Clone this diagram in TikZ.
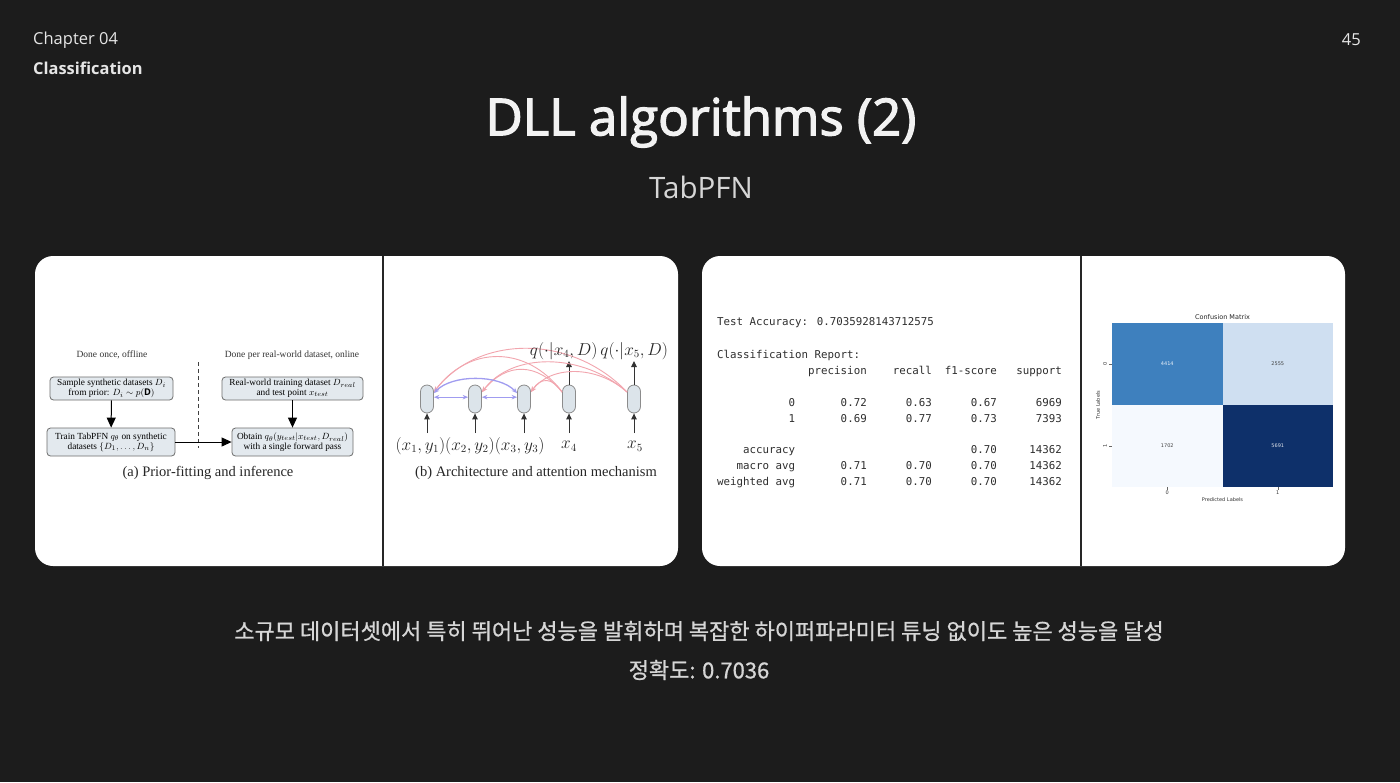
\documentclass[tikz,border=0pt]{standalone}
\usepackage{fontspec}
\usetikzlibrary{arrows.meta}
\setmainfont{Open Sans}
\newfontfamily\titlefont[FakeBold=2.5]{Open Sans}
\newfontfamily\krfont[FakeBold=0.8]{Noto Sans CJK KR}
\newfontfamily\paperfont{Liberation Serif}
\newfontfamily\codefont{DejaVu Sans Mono}
\newfontfamily\plotfont{DejaVu Sans}

\definecolor{bgcol}{HTML}{1C1C1C}
\definecolor{headtext}{HTML}{E6E6E6}
\definecolor{subtext}{HTML}{D6D6D6}
\definecolor{divcol}{HTML}{262626}
\definecolor{boxfill}{HTML}{E3E9EE}
\definecolor{boxline}{HTML}{6E6E6E}
\definecolor{pillfill}{HTML}{DCE4EA}
\definecolor{pillline}{HTML}{8C8C8C}
\definecolor{attnred}{HTML}{F2A5AE}
\definecolor{attnblue}{HTML}{A09CF0}
\definecolor{codetext}{HTML}{2E2E2E}
\definecolor{cmA}{HTML}{3E80BE}
\definecolor{cmB}{HTML}{CFDFF1}
\definecolor{cmC}{HTML}{F5F9FE}
\definecolor{cmD}{HTML}{0E306A}

\tikzset{
  panel/.style={fill=white, rounded corners=18pt, draw=none, inner sep=0pt},
  divider/.style={draw=divcol, line width=2.5pt},
  pbox/.style={draw=boxline, fill=boxfill, rounded corners=3.5pt, line width=0.8pt,
    align=center, inner sep=0.5pt, text=black,
    font=\paperfont\fontsize{9.3}{9.8}\selectfont},
  phead/.style={font=\paperfont\fontsize{9.5}{11}\selectfont, text=black!80, inner sep=0pt},
  pcap/.style={font=\paperfont\fontsize{14.5}{16}\selectfont, text=black!85, inner sep=0pt},
  flow/.style={line width=1pt, -{Triangle[length=10pt,width=9pt]}},
  pill/.style={draw=pillline, fill=pillfill, line width=0.8pt, rounded corners=6.5pt,
    minimum width=13pt, minimum height=28pt, inner sep=0pt},
  uparrow/.style={draw=black!80, line width=1pt, -{Triangle[length=6pt,width=5.5pt]}},
  mathlbl/.style={font=\fontsize{16}{18}\selectfont, text=black!85, inner sep=0pt},
  redattn/.style={draw=attnred, line width=0.9pt, -{Stealth[length=5.5pt,width=4.5pt]}},
  blueattn/.style={draw=attnblue, line width=1.3pt, {Stealth[length=5.5pt,width=4.5pt]}-{Stealth[length=5.5pt,width=4.5pt]}},
  codeline/.style={anchor=west, inner sep=0pt, text=codetext, font=\codefont\fontsize{10.8}{12}\selectfont},
  cell/.style={minimum width=110.5pt, minimum height=82pt, inner sep=0pt, draw=none,
    font=\plotfont\fontsize{5}{6}\selectfont},
  plotlbl/.style={inner sep=0pt, text=black!80, font=\plotfont\fontsize{5}{6}\selectfont},
}

\begin{document}
\begin{tikzpicture}[x=1pt,y=-1pt]
  % slide background
  \fill[bgcol] (0,0) rectangle (1400,782);
  \useasboundingbox (0,0) rectangle (1400,782);

  % header
  \node[anchor=west, inner sep=0pt, text=headtext, font=\fontsize{16.5}{20}\selectfont] (chap) at (33,40) {Chapter 04};
  \node[anchor=west, inner sep=0pt, text=headtext, font=\bfseries\fontsize{16.4}{20}\selectfont] (sect) at (33,68) {Classification};
  \node[anchor=east, inner sep=0pt, text=headtext, font=\fontsize{16.5}{20}\selectfont] (page) at (1361,40) {45};
  \node[inner sep=0pt, text=white!95!black, font=\titlefont\fontsize{51}{60}\selectfont] (title) at (701,122) {DLL algorithms (2)};
  \node[inner sep=0pt, text=subtext, font=\fontsize{29.5}{34}\selectfont] (subtitle) at (701,187) {TabPFN};

  % image panels
  \node[panel, minimum width=643pt, minimum height=310pt] (left) at (356.5,411) {};
  \node[panel, minimum width=643pt, minimum height=310pt] (right) at (1023.5,411) {};
  \draw[divider] (383,256) -- (383,566);
  \draw[divider] (1081,256) -- (1081,566);

  % (a) prior-fitting and inference
  \node[phead] (offhead) at (112,355) {Done once, offline};
  \node[phead] (onhead) at (292,355) {Done per real-world dataset, online};
  \draw[black!75, line width=0.9pt, dash pattern=on 4pt off 3pt] (198,362) -- (198,448);
  \node[pbox, minimum width=123pt, minimum height=23pt] (sample) at (111.5,388.5)
    {Sample synthetic datasets $D_i$\\from prior: $D_i\sim p(\mathbf{D})$};
  \node[pbox, minimum width=128pt, minimum height=28pt] (train) at (111,442)
    {Train TabPFN $q_\theta$ on synthetic\\datasets $\{D_1,\ldots,D_n\}$};
  \node[pbox, minimum width=141pt, minimum height=23pt] (real) at (292.5,388.5)
    {Real-world training dataset $D_{real}$\\and test point $x_{test}$};
  \node[pbox, minimum width=121pt, minimum height=28pt] (obtain) at (292.5,442)
    {Obtain $q_\theta(y_{test}|x_{test},D_{real})$\\with a single forward pass};
  \draw[flow] (sample) -- (train);
  \draw[flow] (real) -- (obtain);
  \draw[flow] (train) -- (obtain);
  \node[pcap] (capa) at (208,473) {(a) Prior-fitting and inference};

  % (b) architecture and attention
  \node[pill] (p1) at (427,399) {};
  \node[pill] (p2) at (475,399) {};
  \node[pill] (p3) at (524,399) {};
  \node[pill] (p4) at (569,399) {};
  \node[pill] (p5) at (634,399) {};
  \foreach \i/\x in {1/427,2/475,3/524,4/569,5/634}{
    \coordinate (in\i) at (\x,433);
    \draw[uparrow] (in\i) -- (p\i.south);
  }
  \coordinate (out4) at (569,361);
  \coordinate (out5) at (634,361);
  \draw[uparrow] (p4.north) -- (out4);
  \draw[uparrow] (p5.north) -- (out5);

  % queries attend to the training points
  \draw[redattn] (p5.135) .. controls +(-55,-58) and +(45,-58) .. (p1.45);
  \draw[redattn] (p5.135) .. controls +(-45,-40) and +(30,-40) .. (p2.45);
  \draw[redattn] (p5.135) .. controls +(-30,-27) and +(20,-27) .. (p3.45);
  \draw[redattn] (p4.135) .. controls +(-35,-47) and +(35,-47) .. (p1.45);
  \draw[redattn] (p4.135) .. controls +(-25,-30) and +(25,-30) .. (p2.45);
  \draw[redattn] (p4.135) .. controls +(-10,-15) and +(10,-15) .. (p3.45);
  % training points attend to each other
  \draw[blueattn] (p1.15) -- (p2.165);
  \draw[blueattn] (p2.15) -- (p3.165);
  \draw[blueattn] (p1.40) .. controls +(18,-19) and +(-18,-19) .. (p3.140);

  \node[mathlbl] (lab123) at (470,446) {$(x_1,y_1)(x_2,y_2)(x_3,y_3)$};
  \node[mathlbl] (lab4) at (569,446) {$x_4$};
  \node[mathlbl] (lab5) at (635,446) {$x_5$};
  \node[mathlbl] (qlab) at (599,351) {$q(\cdot|x_4,D)\,q(\cdot|x_5,D)$};
  \node[pcap] (capb) at (536,473) {(b) Architecture and attention mechanism};

  % classification report
  \node[codeline] (acc) at (717,323) {Test Accuracy: 0.7035928143712575};
  \node[codeline] (rep) at (717,355) {Classification Report:};
  \node[codeline] (hdr) at (717,371) {~~~~~~~~~~~~~~precision~~~~recall~~f1-score~~~support};
  \node[codeline] (row0) at (717,403) {~~~~~~~~~~~0~~~~~~~0.72~~~~~~0.63~~~~~~0.67~~~~~~6969};
  \node[codeline] (row1) at (717,419) {~~~~~~~~~~~1~~~~~~~0.69~~~~~~0.77~~~~~~0.73~~~~~~7393};
  \node[codeline] (rowacc) at (717,451) {~~~~accuracy~~~~~~~~~~~~~~~~~~~~~~~~~~~0.70~~~~~14362};
  \node[codeline] (rowmac) at (717,467) {~~~macro~avg~~~~~~~0.71~~~~~~0.70~~~~~~0.70~~~~~14362};
  \node[codeline] (rowwt) at (717,483) {weighted~avg~~~~~~~0.71~~~~~~0.70~~~~~~0.70~~~~~14362};

  % confusion matrix heatmap
  \node[cell, fill=cmA, text=white!90!cmA] (c00) at (1167.25,364) {4414};
  \node[cell, fill=cmB, text=black!75] (c01) at (1277.75,364) {2555};
  \node[cell, fill=cmC, text=black!75] (c10) at (1167.25,446) {1702};
  \node[cell, fill=cmD, text=white!85!cmD] (c11) at (1277.75,446) {5691};
  \node[inner sep=0pt, text=black!85, font=\plotfont\fontsize{6.5}{8}\selectfont] (cmtitle) at (1222.5,317) {Confusion Matrix};
  \draw[black!60, line width=0.4pt] (c00.west) -- +(-3,0);
  \draw[black!60, line width=0.4pt] (c10.west) -- +(-3,0);
  \draw[black!60, line width=0.4pt] (c10.south) -- +(0,3);
  \draw[black!60, line width=0.4pt] (c11.south) -- +(0,3);
  \node[plotlbl, rotate=90] (ty0) at (1105,364) {0};
  \node[plotlbl, rotate=90] (ty1) at (1105,446) {1};
  \node[plotlbl, rotate=90] (ylab) at (1098,405) {True Labels};
  \node[plotlbl] (tx0) at (1167.25,493) {0};
  \node[plotlbl] (tx1) at (1277.75,493) {1};
  \node[plotlbl] (xlab) at (1222.5,500) {Predicted Labels};

  % summary
  \node[inner sep=0pt, text=subtext, font=\krfont\fontsize{22}{26}\selectfont] (summary) at (699,631)
    {소규모 데이터셋에서 특히 뛰어난 성능을 발휘하며 복잡한 하이퍼파라미터 튜닝 없이도 높은 성능을 달성};
  \node[inner sep=0pt, text=subtext, font=\krfont\fontsize{22}{26}\selectfont] (score) at (699,670)
    {정확도: 0.7036};
\end{tikzpicture}
\end{document}
